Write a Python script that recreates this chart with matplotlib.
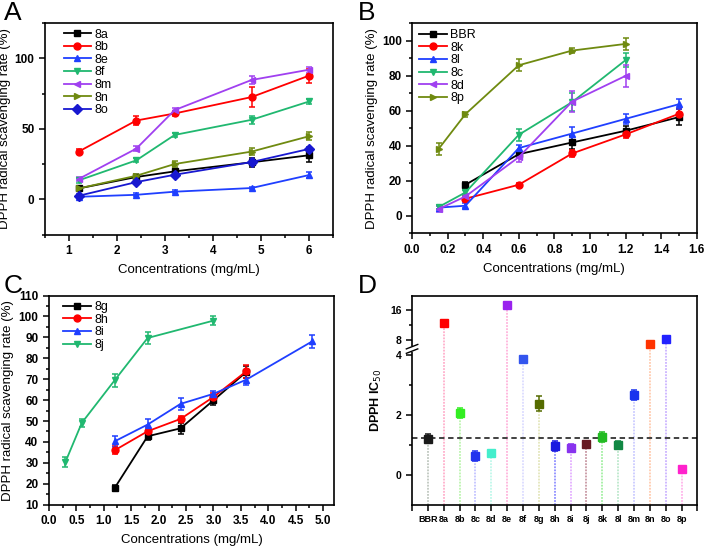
import numpy as np
import matplotlib
matplotlib.use('Agg')
import matplotlib.pyplot as plt
from matplotlib.ticker import MultipleLocator, FixedLocator

plt.rcParams['font.family'] = ['Liberation Sans', 'DejaVu Sans']
plt.rcParams['axes.linewidth'] = 1.2

# ---- panel A data ----
a_x = [1.2, 2.4, 3.2, 4.8, 6.0]
a_names = ['8a', '8b', '8e', '8f', '8m', '8n', '8o']
a_vals = [
    [7.8, 15.9, 19.9, 26.3, 31.3],
    [33.9, 55.9, 60.9, 72.5, 87.7],
    [1.9, 3.3, 5.5, 8.1, 17.3],
    [13.5, 27.7, 45.7, 56.4, 69.4],
    [14.5, 36.0, 63.3, 84.6, 91.9],
    [7.8, 16.8, 25.1, 33.9, 44.8],
    [2.6, 12.3, 17.5, 26.5, 35.8],
]
a_errs = [
    [1.5, 1.5, 1.5, 3, 5],
    [2, 3.5, 1.5, 7, 5],
    [1, 1, 1, 1, 2],
    [1.5, 1.5, 1.5, 3, 2],
    [1.5, 2, 1.5, 3, 2],
    [1, 1.5, 2, 2.5, 3],
    [1, 1.5, 1, 2, 1.5],
]

# ---- panel B data ----
b_names = ['BBR', '8k', '8l', '8c', '8d', '8p']
b_x = [
    [0.3, 0.6, 0.9, 1.2, 1.5],
    [0.3, 0.6, 0.9, 1.2, 1.5],
    [0.15, 0.3, 0.6, 0.9, 1.2, 1.5],
    [0.15, 0.3, 0.6, 0.9, 1.2],
    [0.15, 0.3, 0.6, 0.9, 1.2],
    [0.15, 0.3, 0.6, 0.9, 1.2],
]
b_vals = [
    [17.7, 35.2, 41.9, 48.6, 56.4],
    [9.7, 17.7, 35.6, 46.5, 58.3],
    [4.6, 5.7, 38.7, 47.0, 55.4, 63.8],
    [5.0, 13.3, 46.3, 65.0, 89.0],
    [3.8, 11.0, 33.5, 65.3, 80.0],
    [38.3, 58.1, 86.1, 94.5, 98.3],
]
b_errs = [
    [1.5, 1.5, 3.5, 2.5, 4.5],
    [1.5, 1, 2, 2, 2.5],
    [1, 1.5, 2, 3.5, 3, 3],
    [1, 1.5, 3.5, 5, 4],
    [1.5, 1.5, 2.5, 6, 6.5],
    [3.5, 1.5, 3.5, 1.5, 3.5],
]

# ---- panel C data ----
c_names = ['8g', '8h', '8i', '8j']
c_x = [
    [1.2, 1.8, 2.4, 3.0, 3.6],
    [1.2, 1.8, 2.4, 3.0, 3.6],
    [1.2, 1.8, 2.4, 3.0, 3.6, 4.8],
    [0.3, 0.6, 1.2, 1.8, 3.0],
]
c_vals = [
    [18.0, 42.7, 46.5, 59.9, 73.5],
    [36.0, 45.1, 51.0, 61.5, 73.8],
    [40.3, 48.3, 58.2, 63.0, 69.8, 88.1],
    [30.3, 49.1, 69.5, 89.7, 98.0],
]
c_errs = [
    [1.5, 2, 2.5, 2, 3],
    [2, 2, 1.5, 2, 3],
    [2.5, 2.5, 3, 1.5, 2.5, 3],
    [2.5, 2, 3, 3, 2],
]

# ---- panel D data ----
d_names = ['BBR', '8a', '8b', '8c', '8d', '8e', '8f', '8g', '8h',
           '8i', '8j', '8k', '8l', '8m', '8n', '8o', '8p']
d_ic50 = [1.20, 12.7, 2.06, 0.62, 0.72, 17.5, 3.85, 2.36, 0.95,
          0.88, 1.01, 1.27, 0.99, 2.66, 7.0, 8.2, 0.19]
d_err = [0.15, 0.3, 0.18, 0.17, 0.1, 0.2, 0.12, 0.25, 0.17,
         0.13, 0.1, 0.17, 0.12, 0.17, 0.2, 0.2, 0.1]
d_colors = ['#1a1a1a', '#ff0000', '#33ee22', '#2233ee', '#44eecc', '#9922ee',
            '#3355ee', '#556b00', '#1a1ae0', '#8833ee', '#661a22', '#22bb22',
            '#118844', '#1a33ee', '#ff3300', '#2222ff', '#ff22cc']
d_stem = ['#c0c8c0', '#ffb0cc', '#bdf5b0', '#c4c4ff', '#bff8ea', '#ffb4dc',
          '#dcdcff', '#e4e6bc', '#9090ff', '#e4b0ff', '#c898a4', '#a4f0a4',
          '#bce8cc', '#ccccff', '#ffccb0', '#ccb4ff', '#ffb4ea']
bbr_level = 1.21

line_colors = ['#000000', '#ff0000', '#1f3fff', '#20b870', '#a040f0', '#6f8a10', '#1818d0']
markers_a = ['s', 'o', '^', 'v', '<', '>', 'D']


def style_axes(ax):
    ax.tick_params(which='both', direction='out', width=1.1, labelsize=8.5)
    ax.tick_params(which='major', length=4)
    ax.tick_params(which='minor', length=2.5)
    for lab in ax.get_xticklabels() + ax.get_yticklabels():
        lab.set_fontweight('bold')
    ax.set_xlabel('Concentrations (mg/mL)', fontsize=9.5, labelpad=5)
    ax.set_ylabel('DPPH radical scavenging rate (%)', fontsize=9.5, labelpad=3)


def draw_lines(ax, xs, vals, errs, names, colors, markers, xoff):
    handles = []
    for x, v, e, n, c, m in zip(xs, vals, errs, names, colors, markers):
        cont = ax.errorbar(x, v, yerr=e, color=c, marker=m, markersize=5, lw=1.3,
                           capsize=2.5, elinewidth=1.1, capthick=1.1)
        handles.append(cont[0])
    ax.legend(handles, names, loc='upper left', bbox_to_anchor=(xoff, 1.0),
              frameon=False, fontsize=9, labelspacing=0.05, handlelength=2.2,
              handletextpad=0.3, borderaxespad=0.15, borderpad=0.3)


fig = plt.figure(figsize=(7.08, 5.46), dpi=100)
axA = fig.add_axes([0.0636, 0.570, 0.407, 0.388])
axB = fig.add_axes([0.582, 0.573, 0.402, 0.384])
axC = fig.add_axes([0.069, 0.0757, 0.403, 0.383])
axD = fig.add_axes([0.582, 0.0757, 0.403, 0.383])

# A
draw_lines(axA, [a_x] * len(a_names), a_vals, a_errs, a_names, line_colors,
           markers_a, 0.045)
axA.set_xlim(0.5, 6.5)
axA.set_ylim(-25, 125)
axA.xaxis.set_major_locator(MultipleLocator(1))
axA.xaxis.set_minor_locator(MultipleLocator(0.5))
axA.yaxis.set_major_locator(FixedLocator([0, 50, 100]))
axA.yaxis.set_minor_locator(MultipleLocator(25))
style_axes(axA)

# B
b_colors = ['#000000', '#ff0000', '#1f3fff', '#20b870', '#a040f0', '#6f8a10']
draw_lines(axB, b_x, b_vals, b_errs, b_names, b_colors,
           ['s', 'o', '^', 'v', '<', '>'], 0.005)
axB.set_xlim(0, 1.6)
axB.set_ylim(-10, 110)
axB.xaxis.set_major_locator(MultipleLocator(0.2))
axB.xaxis.set_minor_locator(MultipleLocator(0.1))
axB.yaxis.set_major_locator(FixedLocator([0, 20, 40, 60, 80, 100]))
axB.yaxis.set_minor_locator(MultipleLocator(10))
style_axes(axB)

# C
c_colors = ['#000000', '#ff0000', '#1f3fff', '#20b870']
draw_lines(axC, c_x, c_vals, c_errs, c_names, c_colors, ['s', 'o', '^', 'v'], 0.03)
axC.set_xlim(0, 5.2)
axC.set_ylim(10, 110)
axC.xaxis.set_major_locator(MultipleLocator(0.5))
axC.xaxis.set_minor_locator(MultipleLocator(0.25))
axC.yaxis.set_major_locator(MultipleLocator(10))
axC.yaxis.set_minor_locator(MultipleLocator(5))
style_axes(axC)

# D : broken-looking y axis via piecewise linear scale
k = 11 / 89


def fwd(v):
    v = np.asarray(v, dtype=float)
    return np.where(v <= 4, v, 4 + (v - 4) * k)


def inv(u):
    u = np.asarray(u, dtype=float)
    return np.where(u <= 4, u, 4 + (u - 4) / k)


axD.set_yscale('function', functions=(fwd, inv))
pos = np.arange(len(d_names))
for i in range(len(d_names)):
    axD.plot([pos[i], pos[i]], [-1, d_ic50[i]], color=d_stem[i], lw=1.3,
             ls=(0, (1, 0.7)), zorder=1)
    axD.errorbar(pos[i], d_ic50[i], yerr=d_err[i], color=d_colors[i], marker='s',
                 markersize=5.5, capsize=2.5, elinewidth=1.1, capthick=1.1, zorder=3)
axD.axhline(bbr_level, color='#333333', ls=(0, (3, 2)), lw=1.3, zorder=2)
axD.set_xlim(-1, 17)
axD.set_ylim(-1, 20)
axD.set_xticks(np.arange(-1, 18))
axD.set_xticklabels([''] + d_names + [''])
axD.yaxis.set_major_locator(FixedLocator([0, 2, 4, 8, 16]))
axD.yaxis.set_minor_locator(FixedLocator([1, 3, 12]))
axD.tick_params(which='both', direction='out', width=1.1)
axD.tick_params(which='major', length=4)
axD.tick_params(which='minor', length=2.5)
axD.tick_params(axis='x', labelsize=6.5)
axD.tick_params(axis='y', labelsize=7.5)
for lab in axD.get_xticklabels() + axD.get_yticklabels():
    lab.set_fontweight('bold')
axD.set_ylabel('DPPH IC$_{50}$', fontsize=9, fontweight='bold')
axD.yaxis.set_label_coords(-0.10, 0.5)

# break mark on left spine
tr = axD.get_yaxis_transform()
axD.plot([-0.012, 0.012], [5.6, 5.6], transform=tr, color='white', lw=4,
         clip_on=False, zorder=5, solid_capstyle='butt')
for yb in (5.0, 6.2):
    axD.plot([-0.02, 0.02], [yb - 0.6, yb + 0.6], transform=tr, color='black',
             lw=1.0, clip_on=False, zorder=6)

# panel letters
for txt, x, y in [('A', 0.005, 0.955), ('B', 0.505, 0.955),
                  ('C', 0.005, 0.455), ('D', 0.505, 0.455)]:
    fig.text(x, y, txt, fontsize=19, va='bottom', ha='left')

fig.savefig('out.png', dpi=100)
